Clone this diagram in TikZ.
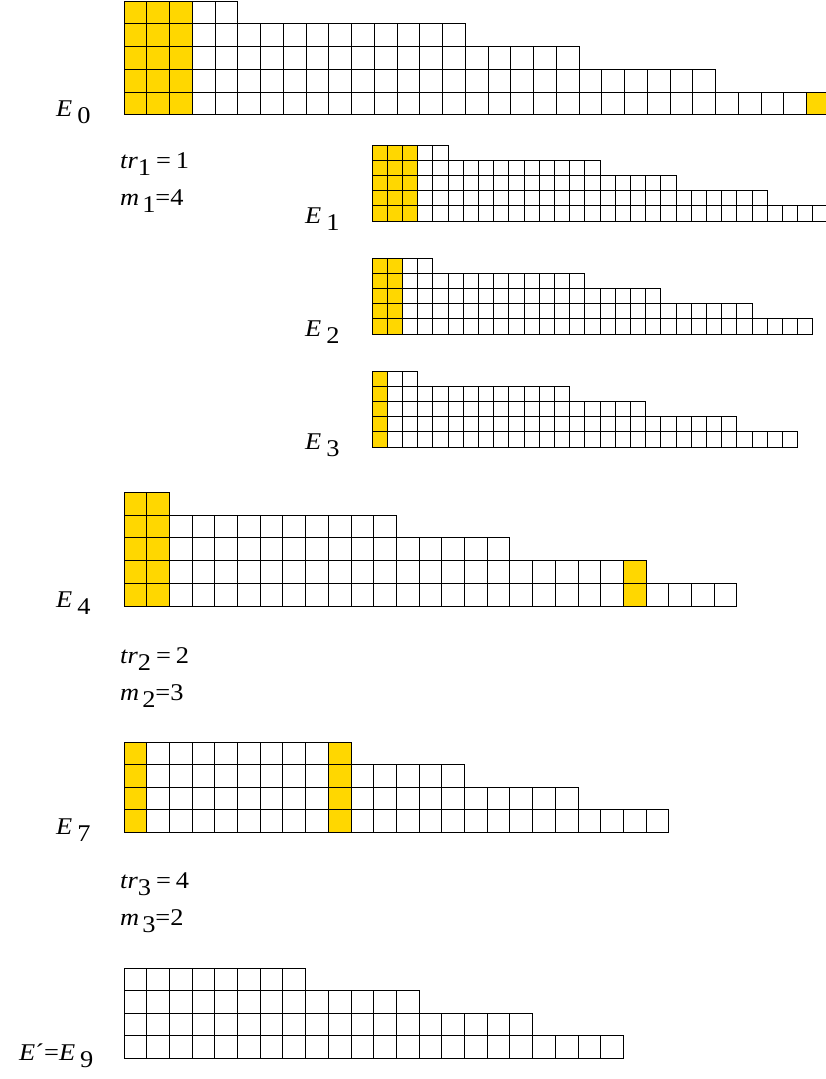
\documentclass[tikz,border=0pt]{standalone}
\usepackage{fontspec}
\setmainfont{Liberation Serif}[FakeStretch=1.1]
\definecolor{gold}{RGB}{255,215,0}
\tikzset{
  cellline/.style={draw=black, line width=0.9pt},
  goldfill/.style={fill=gold},
  lab/.style={inner sep=0pt, anchor=base west, font=\fontsize{24}{28}\selectfont}
}
\newcommand{\sbs}[1]{\raisebox{-7pt}{#1}}
% x0, ytop, cellw, cellh, list of row lengths (top to bottom)
\newcommand{\youngrid}[5]{%
  \foreach \n [count=\r from 0] in {#5}{%
    \foreach \c in {1,...,\n}{%
      \draw[cellline] ({#1+(\c-1)*#3},{#2+\r*#4}) rectangle ++(#3,#4);
    }%
  }%
}
\begin{document}
\begin{tikzpicture}[x=1pt,y=-1pt]
\useasboundingbox (0,0) rectangle (826,1079);
\clip (0,0) rectangle (826,1079);
\fill[white] (0,0) rectangle (826,1079);

% ---------- E0 ----------
\fill[goldfill] (124,1) rectangle ++({3*22.75},{5*22.75});
\fill[goldfill] ({124+30*22.75},{1+4*22.75}) rectangle ++(22.75,22.75);
\youngrid{124}{1}{22.75}{22.75}{5,15,20,26,31}
\node[lab] (e0) at (56,116) {\textit{E}\hspace{5pt}\sbs{0}};

\node[lab] (tr1) at (120,168) {\textit{tr}\sbs{1}\hspace{5pt}=\hspace{5pt}1};
\node[lab] (m1) at (120,205) {\textit{m}\hspace{3pt}\sbs{1}=4};

% ---------- E1 ----------
\fill[goldfill] (372,145) rectangle ++({3*15.2},{5*15.2});
\youngrid{372}{145}{15.2}{15.2}{5,15,20,26,30}
\node[lab] (e1) at (305,223) {\textit{E}\hspace{5pt}\sbs{1}};

% ---------- E2 ----------
\fill[goldfill] (372,258) rectangle ++({2*15.2},{5*15.2});
\youngrid{372}{258}{15.2}{15.2}{4,14,19,25,29}
\node[lab] (e2) at (305,336) {\textit{E}\hspace{5pt}\sbs{2}};

% ---------- E3 ----------
\fill[goldfill] (372,371) rectangle ++({1*15.2},{5*15.2});
\youngrid{372}{371}{15.2}{15.2}{3,13,18,24,28}
\node[lab] (e3) at (305,449) {\textit{E}\hspace{5pt}\sbs{3}};

% ---------- E4 ----------
\fill[goldfill] (124,492.5) rectangle ++({2*22.7},{5*22.7});
\fill[goldfill] ({124+22*22.7},{492.5+3*22.7}) rectangle ++(22.7,{2*22.7});
\youngrid{124}{492.5}{22.7}{22.7}{2,12,17,23,27}
\node[lab] (e4) at (56,607) {\textit{E}\hspace{5pt}\sbs{4}};

\node[lab] (tr2) at (120,663) {\textit{tr}\sbs{2}\hspace{5pt}=\hspace{5pt}2};
\node[lab] (m2) at (120,700) {\textit{m}\hspace{3pt}\sbs{2}=3};

% ---------- E7 ----------
\fill[goldfill] (124,742) rectangle ++(22.7,{4*22.6});
\fill[goldfill] ({124+9*22.7},742) rectangle ++(22.7,{4*22.6});
\youngrid{124}{742}{22.7}{22.6}{10,15,20,24}
\node[lab] (e7) at (56,834) {\textit{E}\hspace{5pt}\sbs{7}};

\node[lab] (tr3) at (120,888) {\textit{tr}\sbs{3}\hspace{5pt}=\hspace{5pt}4};
\node[lab] (m3) at (120,925) {\textit{m}\hspace{3pt}\sbs{3}=2};

% ---------- E9 ----------
\youngrid{124}{968}{22.7}{22.6}{8,13,18,22}
\node[lab] (e9) at (19,1060) {\textit{E}´=\textit{E}\hspace{5pt}\sbs{9}};

\end{tikzpicture}
\end{document}
